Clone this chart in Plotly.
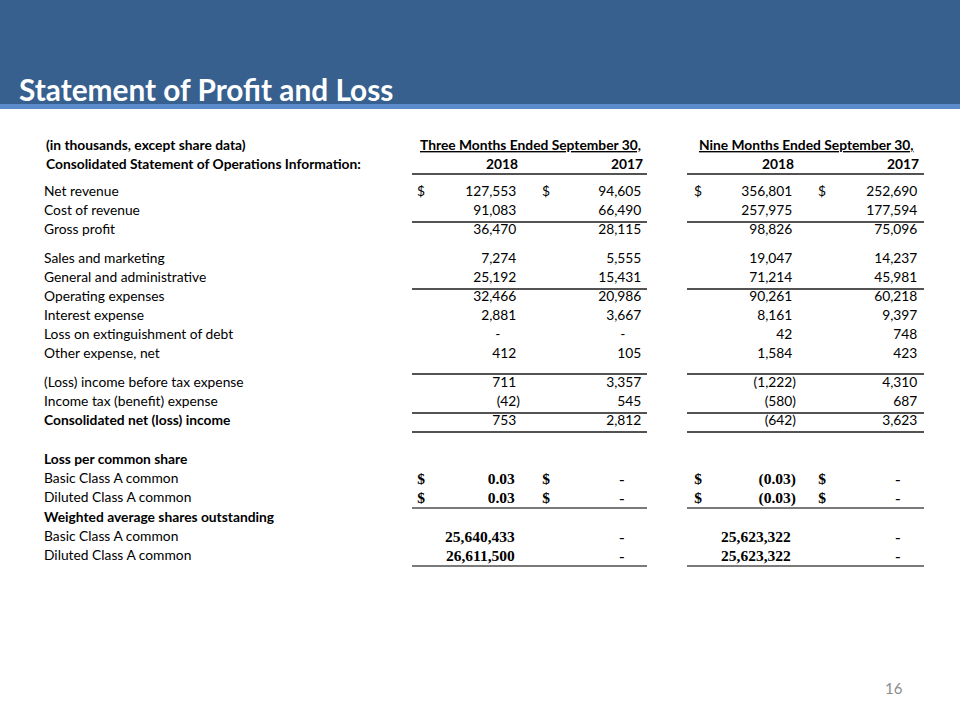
import plotly.graph_objects as go

# ---- data (in thousands, except share data) ----
title = "Statement of Profit and Loss"
groups = ["Three Months Ended September 30,", "Nine Months Ended September 30,"]
years = ["2018", "2017", "2018", "2017"]

labels = [
    "Net revenue", "Cost of revenue", "Gross profit",
    "Sales and marketing", "General and administrative", "Operating expenses",
    "Interest expense", "Loss on extinguishment of debt", "Other expense, net",
    "(Loss) income before tax expense", "Income tax (benefit) expense",
    "Consolidated net (loss) income",
    "Loss per common share", "Basic Class A common", "Diluted Class A common",
    "Weighted average shares outstanding", "Basic Class A common", "Diluted Class A common",
]
bold_rows = [11, 12, 15]
# row kind: amt = thousands, eps = per share, shr = share count, hdr = heading only
kinds = ["amt"] * 12 + ["hdr", "eps", "eps", "hdr", "shr", "shr"]
dollar_rows = [0, 13, 14]

# None = blank, 0 = dash
q3_2018 = [127553, 91083, 36470, 7274, 25192, 32466, 2881, 0, 412, 711, -42, 753,
           None, 0.03, 0.03, None, 25640433, 26611500]
q3_2017 = [94605, 66490, 28115, 5555, 15431, 20986, 3667, 0, 105, 3357, 545, 2812,
           None, 0, 0, None, 0, 0]
ytd_2018 = [356801, 257975, 98826, 19047, 71214, 90261, 8161, 42, 1584, -1222, -580, -642,
            None, -0.03, -0.03, None, 25623322, 25623322]
ytd_2017 = [252690, 177594, 75096, 14237, 45981, 60218, 9397, 748, 423, 4310, 687, 3623,
            None, 0, 0, None, 0, 0]
columns = [q3_2018, q3_2017, ytd_2018, ytd_2017]

# ---- layout ----
SANS = "Lato"
SERIF = "Liberation Serif"
FS = 13.8
FS_SERIF = 15.5
HIDE = '<span style="color:rgba(0,0,0,0)">%s</span>'
row_y = [193, 212, 231, 260, 279, 298, 317, 336, 355, 384, 403, 422,
         461, 480, 499, 519, 538, 557]
col_x = [520, 645, 796, 921]
dollar_x = [421, 546, 698, 822]
group_x = [[412, 647], [687, 924]]
rules = [(174, "#1a1a1a", 1.5), (222, "#1a1a1a", 1.3), (289, "#1a1a1a", 1.3), (374, "#1a1a1a", 1.7),
         (413, "#1a1a1a", 1.3), (432, "#1a1a1a", 1.3), (508, "#7a7a7a", 2), (566, "#7a7a7a", 2)]


def fmt(v, kind):
    if v is None:
        return ""
    if v == 0:
        return "-" + HIDE % "00)"
    s = f"{abs(v):,.2f}" if kind == "eps" else f"{abs(v):,.0f}"
    if v < 0:
        return "(" + s + ")"
    return s + HIDE % ")"


def wrap(t, kind):
    return "<b>" + t + "</b>" if kind in ("eps", "shr") and t else t


fig = go.Figure()

# row labels
fig.add_trace(go.Scatter(
    x=[44] * len(labels), y=row_y, mode="text",
    text=["<b>" + l + "</b>" if i in bold_rows else l for i, l in enumerate(labels)],
    textposition="middle right",
    textfont=dict(family=SANS, size=FS, color="#000"),
    hoverinfo="skip"))

# value columns
for ci, col in enumerate(columns):
    fams = [SERIF if k in ("eps", "shr") else SANS for k in kinds]
    fig.add_trace(go.Scatter(
        x=[col_x[ci]] * len(col), y=row_y, mode="text",
        text=[wrap(fmt(v, k), k) for v, k in zip(col, kinds)],
        textposition="middle left",
        textfont=dict(family=fams, size=[FS_SERIF if f == SERIF else FS for f in fams], color="#000"),
        hoverinfo="skip"))

# dollar signs
for ci in range(4):
    ys = [row_y[r] for r in dollar_rows]
    fams = [SERIF if kinds[r] == "eps" else SANS for r in dollar_rows]
    fig.add_trace(go.Scatter(
        x=[dollar_x[ci]] * len(ys), y=ys, mode="text",
        text=["<b>$</b>" if kinds[r] == "eps" else "$" for r in dollar_rows],
        textposition="middle center",
        textfont=dict(family=fams, size=[FS_SERIF if f == SERIF else FS for f in fams], color="#000"),
        hoverinfo="skip"))

shapes = [
    dict(type="rect", xref="x", yref="y", x0=0, x1=960, y0=0, y1=104,
         fillcolor="#37608F", line_width=0, layer="below"),
    dict(type="rect", xref="x", yref="y", x0=0, x1=960, y0=104, y1=109,
         fillcolor="#5B8BCB", line_width=0, layer="below"),
]
for y, c, w in rules:
    for gx in group_x:
        shapes.append(dict(type="line", xref="x", yref="y", x0=gx[0], x1=gx[1], y0=y, y1=y,
                           line=dict(color=c, width=w)))

ann = [
    dict(x=17, y=89, text="<b>" + title + "</b>", xanchor="left", yanchor="middle",
         font=dict(family=SANS, size=29.8, color="white")),
    dict(x=44, y=144, text="<b>(in thousands, except share data)</b>", xanchor="left",
         yanchor="middle", font=dict(family=SANS, size=FS, color="#000")),
    dict(x=44, y=163, text="<b>Consolidated Statement of Operations Information:</b>",
         xanchor="left", yanchor="middle", font=dict(family=SANS, size=FS, color="#000")),
    dict(x=894, y=688, text="16", xanchor="center", yanchor="middle",
         font=dict(family=SANS, size=15, color="#8C8C8C")),
]
for gi, g in enumerate(groups):
    ann.append(dict(x=(group_x[gi][0] + group_x[gi][1]) / 2 + 1, y=144,
                    text="<b><u>" + g + "</u></b>", xanchor="center", yanchor="middle",
                    font=dict(family=SANS, size=FS, color="#000")))
for ci, yr in enumerate(years):
    ann.append(dict(x=col_x[ci], y=163, text="<b>" + yr + "</b>", xanchor="right",
                    yanchor="middle", font=dict(family=SANS, size=FS, color="#000")))
for a in ann:
    a.update(xref="x", yref="y", showarrow=False)

fig.update_layout(
    width=960, height=720, margin=dict(l=0, r=0, t=0, b=0),
    paper_bgcolor="white", plot_bgcolor="white", showlegend=False,
    xaxis=dict(range=[0, 960], visible=False, fixedrange=True),
    yaxis=dict(range=[720, 0], visible=False, fixedrange=True),
    shapes=shapes, annotations=ann,
)

fig.write_html("out.html", config={"displayModeBar": False},
               post_script="document.body.style.margin='0';document.body.style.overflow='hidden';")
